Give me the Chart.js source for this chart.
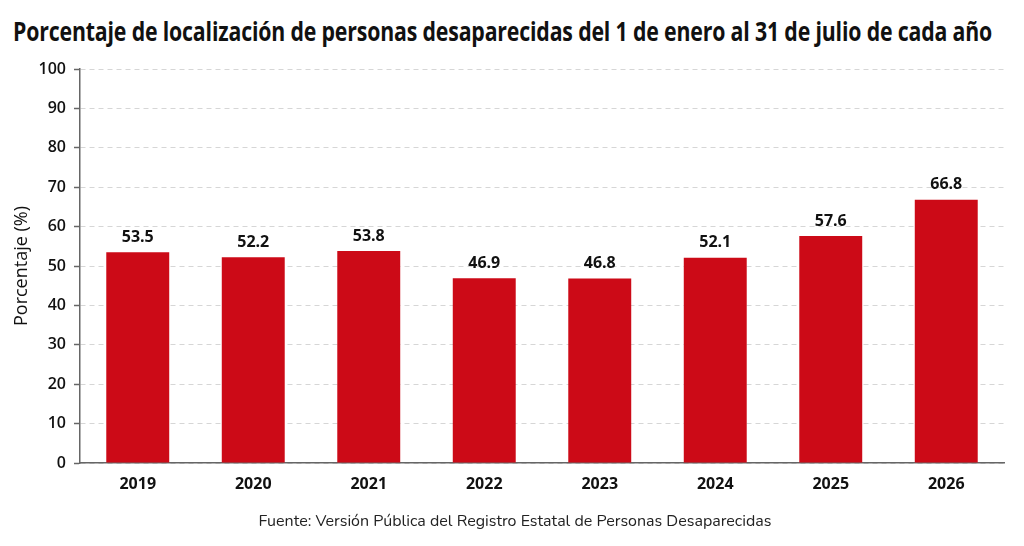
<!DOCTYPE html>
<html><head><meta charset="utf-8">
<script src="https://cdn.jsdelivr.net/npm/chart.js@4/dist/chart.umd.min.js"></script>
<style>
html,body{margin:0;padding:0;background:#fff;width:1024px;height:546px;overflow:hidden;}
#title{position:absolute;left:13px;top:12px;font-family:"Open Sans",sans-serif;font-weight:700;font-size:27px;color:#111;white-space:nowrap;transform:scaleX(0.788);transform-origin:left top;letter-spacing:-0.2px;}
#src{position:absolute;left:0;width:1030px;top:510px;text-align:center;font-family:"Nunito","Open Sans",sans-serif;font-size:16px;color:#222;}
canvas{position:absolute;left:0;top:0;}
</style></head><body>
<div id="title">Porcentaje de localización de personas desaparecidas del 1 de enero al 31 de julio de cada año</div>
<canvas id="c" width="1024" height="546"></canvas>
<div id="src">Fuente: Versión Pública del Registro Estatal de Personas Desaparecidas</div>
<script>
const categories = ["2019","2020","2021","2022","2023","2024","2025","2026"];
const values = [53.5, 52.2, 53.8, 46.9, 46.8, 52.1, 57.6, 66.8];
const yTicks = [0,10,20,30,40,50,60,70,80,90,100];

const labelPlugin = {
  id:'barLabels',
  afterDatasetsDraw(chart){
    const ctx = chart.ctx;
    const meta = chart.getDatasetMeta(0);
    ctx.save();
    ctx.font = '700 16px "Open Sans", sans-serif';
    ctx.fillStyle = '#111';
    ctx.textAlign = 'center';
    ctx.textBaseline = 'bottom';
    meta.data.forEach((el,i)=>{
      ctx.fillText(values[i].toFixed(1), el.x, el.y - 7);
    });
    ctx.restore();
  }
};

new Chart(document.getElementById('c'), {
  type:'bar',
  data:{labels:categories, datasets:[{data:values, backgroundColor:'#cc0a17', borderWidth:0,
    categoryPercentage:1, barPercentage:0.545}]},
  options:{
    responsive:false, animation:false,
    layout:{padding:{left:11,right:20,top:69,bottom:0}},
    plugins:{legend:{display:false}, tooltip:{enabled:false}},
    scales:{
      x:{
        grid:{display:false},
        border:{display:true,color:'#666',width:1.5},
        ticks:{color:'#111',font:{family:'"Open Sans", sans-serif',size:16,weight:'700'},padding:4},
        afterFit(s){ s.height = 83; }
      },
      y:{
        min:0,max:100,
        afterBuildTicks(s){ s.ticks = yTicks.map(v=>({value:v})); },
        grid:{color:'#d6d6d6',lineWidth:1,tickColor:'#666',tickLength:6,tickBorderDash:[],tickWidth:1.5},
        border:{display:true,color:'#666',width:1.5,dash:[5,4]},
        ticks:{color:'#111',font:{family:'"Open Sans", sans-serif',size:16,weight:'600'},padding:8},
        title:{display:true,text:'Porcentaje (%)',color:'#111',font:{family:'"Open Sans", sans-serif',size:18,weight:'400'},padding:{top:0,bottom:0}},
        afterFit(s){ s.width = 69; }
      }
    }
  },
  plugins:[labelPlugin]
});
</script>
</body></html>
